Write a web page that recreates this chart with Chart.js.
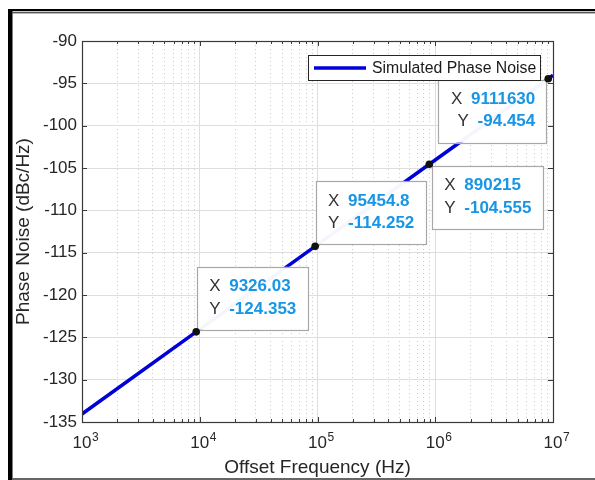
<!DOCTYPE html>
<html>
<head>
<meta charset="utf-8">
<script src="https://cdn.jsdelivr.net/npm/chart.js@4.4.0/dist/chart.umd.min.js"></script>
<style>
html,body{margin:0;padding:0;background:#fff;}
#wrap{width:595px;height:480px;position:relative;}
</style>
</head>
<body>
<div id="wrap"><canvas id="c" width="595" height="480"></canvas></div>
<script>
// ---- data ----
const lineFreq  = [1000, 9326.03, 95454.8, 890215, 9111630, 10000000];
const lineNoise = [-134.05, -124.353, -114.252, -104.555, -94.454, -94.05];
const tipFreq   = [9326.03, 95454.8, 890215, 9111630];
const tipNoise  = [-124.353, -114.252, -104.555, -94.454];
const xMajorTicks = [1e3, 1e4, 1e5, 1e6, 1e7];
const xTickBase = '10';
const xTickExponents = ['3', '4', '5', '6', '7'];
const xMinorMultipliers = [2, 3, 4, 5, 6, 7, 8, 9];
const yTicks = [-135, -130, -125, -120, -115, -110, -105, -100, -95, -90];
const seriesLabel = 'Simulated Phase Noise';
const xTitle = 'Offset Frequency (Hz)';
const yTitle = 'Phase Noise (dBc/Hz)';

const FONT = '"Liberation Sans", Arial, sans-serif';
const TICK_FONT_SIZE = 17;
const TICK_PAD = 11;
const xAllTicks = [];
xMajorTicks.forEach((d, i) => {
  xAllTicks.push(d);
  if (i < xMajorTicks.length - 1) xMinorMultipliers.forEach(m => xAllTicks.push(d * m));
});
const isMajorX = v => xMajorTicks.indexOf(v) >= 0;

// tip box placement relative to its point (style only)
const tipPlacement = ['ne', 'ne', 'se', 'sw'];

const tipsPlugin = {
  id: 'tips',
  afterDatasetDraw(chart, args) {
    if (args.index !== 1) return;
    const ctx = chart.ctx;
    const xs = chart.scales.x, ys = chart.scales.y;
    ctx.save();
    tipFreq.forEach((f, i) => {
      const px = xs.getPixelForValue(f), py = ys.getPixelForValue(tipNoise[i]);
      const rows = [['X', String(f)], ['Y', String(tipNoise[i])]];
      ctx.font = 'bold 17px ' + FONT;
      const vw = rows.map(r => ctx.measureText(r[1]).width);
      const w = 32 + Math.max(vw[0], vw[1]) + 12;
      const h = 63;
      let left, top;
      const pl = tipPlacement[i];
      if (pl === 'ne') { left = px + 1; top = py - 2 - h; }
      else if (pl === 'se') { left = px + 3; top = py + 2; }
      else { left = px - 2 - w; top = py + 1; }
      ctx.fillStyle = 'rgba(255,255,255,0.96)';
      ctx.fillRect(left, top, w, h);
      ctx.strokeStyle = '#a8a8a8';
      ctx.lineWidth = 1.2;
      ctx.strokeRect(Math.round(left) + 0.5, Math.round(top) + 0.5, Math.round(w), Math.round(h));
      ctx.textBaseline = 'middle';
      ctx.textAlign = 'left';
      rows.forEach((r, k) => {
        const cy = top + (k === 0 ? 19.5 : 42);
        let vx;
        if (pl === 'sw') vx = left + w - 11 - vw[k];
        else vx = left + 32;
        ctx.font = '17px ' + FONT;
        ctx.fillStyle = '#333333';
        ctx.fillText(r[0], vx - 20, cy);
        ctx.font = 'bold 17px ' + FONT;
        ctx.fillStyle = '#1796e6';
        ctx.fillText(r[1], vx, cy);
      });
    });
    ctx.restore();
  },
  afterDraw(chart) {
    const ctx = chart.ctx;
    const a = chart.chartArea;
    const xs = chart.scales.x, ys = chart.scales.y;
    ctx.save();
    // axes box
    ctx.strokeStyle = '#3a3a3a';
    ctx.lineWidth = 1.2;
    ctx.strokeRect(Math.round(a.left) + 0.5, Math.round(a.top) + 0.5,
                   Math.round(a.right - a.left), Math.round(a.bottom - a.top));
    // inward tick marks
    ctx.lineWidth = 1;
    ctx.beginPath();
    ys.ticks.forEach(t => {
      const y = Math.round(ys.getPixelForValue(t.value)) + 0.5;
      ctx.moveTo(a.left, y); ctx.lineTo(a.left + 5, y);
      ctx.moveTo(a.right, y); ctx.lineTo(a.right - 5, y);
    });
    xs.ticks.forEach(t => {
      const x = Math.round(xs.getPixelForValue(t.value)) + 0.5;
      const L = isMajorX(t.value) ? 5 : 3;
      ctx.moveTo(x, a.bottom); ctx.lineTo(x, a.bottom - L);
      ctx.moveTo(x, a.top); ctx.lineTo(x, a.top + L);
    });
    ctx.stroke();

    // exponents of the decade tick labels (superscript)
    ctx.font = TICK_FONT_SIZE + 'px ' + FONT;
    const baseW = ctx.measureText(xTickBase).width;
    ctx.font = '12px ' + FONT;
    ctx.fillStyle = '#262626';
    ctx.textAlign = 'left';
    ctx.textBaseline = 'top';
    xMajorTicks.forEach((v, k) => {
      const x = xs.getPixelForValue(v) + baseW / 2 + 0.5;
      ctx.fillText(xTickExponents[k], x, a.bottom + TICK_PAD - 1);
    });

    // legend
    const lx = 308.5, ly = 55.5, lw = 232, lh = 25;
    ctx.fillStyle = '#ffffff';
    ctx.fillRect(lx, ly, lw, lh);
    ctx.strokeStyle = '#262626';
    ctx.lineWidth = 1;
    ctx.strokeRect(lx, ly, lw, lh);
    const ds = chart.data.datasets[1];
    ctx.strokeStyle = ds.borderColor;
    ctx.lineWidth = ds.borderWidth;
    ctx.beginPath();
    ctx.moveTo(314, ly + lh / 2); ctx.lineTo(366, ly + lh / 2);
    ctx.stroke();
    ctx.fillStyle = '#1a1a1a';
    ctx.font = '15.8px ' + FONT;
    ctx.textBaseline = 'middle';
    ctx.textAlign = 'left';
    ctx.fillText(ds.label, 372, ly + lh / 2 + 0.5);

    // outer frame of the picture
    ctx.fillStyle = '#000000';
    ctx.fillRect(8, 9, 4.5, 471);
    ctx.fillRect(8, 9, 587, 2.2);
    ctx.fillStyle = '#555555';
    ctx.fillRect(12, 12, 583, 1.4);
    ctx.fillStyle = '#666666';
    ctx.fillRect(12, 478, 583, 2);
    ctx.restore();
  },
  beforeDraw(chart) {
    const ctx = chart.ctx;
    ctx.save();
    ctx.fillStyle = '#ffffff';
    ctx.fillRect(0, 0, chart.width, chart.height);
    ctx.restore();
  }
};

new Chart(document.getElementById('c'), {
  type: 'line',
  data: {
    datasets: [
      {
        label: 'Data tips',
        data: tipFreq.map((f, i) => ({ x: f, y: tipNoise[i] })),
        showLine: false,
        pointRadius: 3.8,
        pointBackgroundColor: '#111111',
        pointBorderColor: '#111111',
        pointBorderWidth: 0
      },
      {
        label: seriesLabel,
        data: lineFreq.map((f, i) => ({ x: f, y: lineNoise[i] })),
        borderColor: '#0000d8',
        borderWidth: 3.5,
        pointRadius: 0,
        tension: 0,
        fill: false
      }
    ]
  },
  options: {
    responsive: false,
    devicePixelRatio: 1,
    animation: false,
    events: [],
    layout: { padding: { left: 12, top: 41, right: 42, bottom: 0 } },
    plugins: { legend: { display: false }, tooltip: { enabled: false }, title: { display: false } },
    scales: {
      x: {
        type: 'logarithmic',
        min: 1e3,
        max: 1e7,
        afterBuildTicks: s => { s.ticks = xAllTicks.map(v => ({ value: v, major: isMajorX(v) })); },
        afterFit: s => { s.height = 58; },
        ticks: {
          autoSkip: false,
          maxRotation: 0,
          padding: TICK_PAD,
          color: '#262626',
          font: { family: FONT, size: TICK_FONT_SIZE },
          callback: v => (isMajorX(v) ? xTickBase : '')
        },
        grid: {
          drawTicks: false,
          lineWidth: 1,
          color: c => (c.tick && isMajorX(c.tick.value)) ? '#dedede' : '#cccccc'
        },
        border: {
          display: false,
          dash: c => (c.tick && isMajorX(c.tick.value)) ? [] : [1, 3]
        },
        title: {
          display: true,
          text: xTitle,
          color: '#262626',
          font: { family: FONT, size: 19 },
          padding: { top: 0, bottom: 0.5 }
        }
      },
      y: {
        type: 'linear',
        min: -135,
        max: -90,
        afterBuildTicks: s => { s.ticks = yTicks.map(v => ({ value: v })); },
        afterFit: s => { s.width = 70; },
        ticks: {
          padding: 5,
          color: '#262626',
          font: { family: FONT, size: 17 },
          callback: v => String(v)
        },
        grid: { drawTicks: false, lineWidth: 1, color: '#dedede' },
        border: { display: false },
        title: {
          display: true,
          text: yTitle,
          color: '#262626',
          font: { family: FONT, size: 19 },
          padding: { top: 0, bottom: 0 }
        }
      }
    }
  },
  plugins: [tipsPlugin]
});
</script>
</body>
</html>
